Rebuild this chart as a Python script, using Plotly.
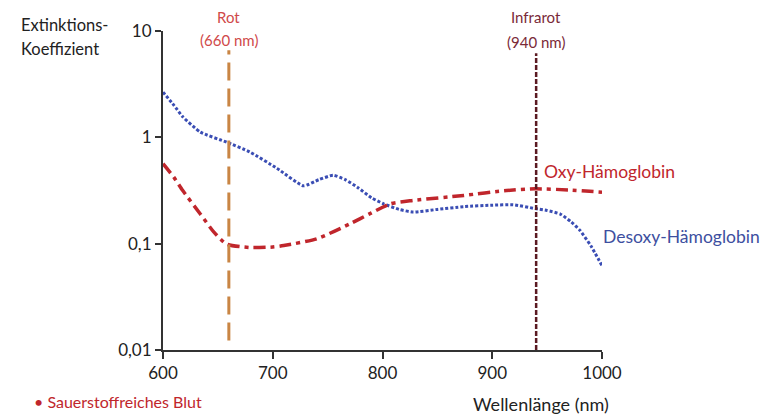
import plotly.graph_objects as go

# Wellenlängen (nm) und Extinktionskoeffizienten
wl_desoxy = [600, 610, 618, 634, 658, 679, 704, 728, 742, 755, 766, 777, 790, 801,
             815, 828, 850, 874, 900, 919, 939, 950, 962, 972, 980, 990, 1000]
ext_desoxy = [2.66, 2.0, 1.56, 1.12, 0.90, 0.73, 0.51, 0.35, 0.40, 0.44, 0.40, 0.34,
              0.27, 0.237, 0.21, 0.198, 0.21, 0.223, 0.23, 0.232, 0.214, 0.205, 0.19,
              0.16, 0.133, 0.095, 0.062]

wl_oxy = [600, 610, 618, 634, 646, 658, 679, 700, 710, 740, 770, 790, 807, 828,
          874, 913, 939, 970, 1000]
ext_oxy = [0.565, 0.42, 0.316, 0.19, 0.13, 0.099, 0.092, 0.093, 0.096, 0.111, 0.153,
           0.195, 0.237, 0.255, 0.284, 0.316, 0.328, 0.32, 0.305]

# Messwellenlängen des Pulsoximeters
wl_rot = 660
wl_infrarot = 940

x_ticks = [600, 700, 800, 900, 1000]
y_ticks = [0.01, 0.1, 1, 10]
y_ticktext = ["0,01", "0,1", "1", "10"]

FONT = "Lato"
RED = "#c0262c"
BLUE = "#3a4db4"

fig = go.Figure()

fig.add_trace(go.Scatter(
    x=wl_desoxy, y=ext_desoxy, mode="lines",
    line=dict(color=BLUE, width=3, dash="3px,2px", shape="spline", smoothing=0.5),
    hoverinfo="skip", showlegend=False,
))
fig.add_trace(go.Scatter(
    x=wl_oxy, y=ext_oxy, mode="lines",
    line=dict(color=RED, width=3.5, dash="12px,5px,4px,5px", shape="spline", smoothing=0.6),
    hoverinfo="skip", showlegend=False,
))

# Vertikale Markierungen für Rot und Infrarot
fig.add_shape(type="line", xref="x", yref="paper", x0=wl_rot, x1=wl_rot,
              y0=0.03, y1=0.94,
              line=dict(color="#c98544", width=3, dash="18px,8px"))
fig.add_shape(type="line", xref="x", yref="paper", x0=wl_infrarot, x1=wl_infrarot,
              y0=0.0, y1=0.93,
              line=dict(color="#5b1a22", width=2.5, dash="5px,2px"))

ann = []
def label(text, x, y, color, size=15, xref="paper", xanchor="left", yanchor="middle"):
    ann.append(dict(text=text, x=x, y=y, xref=xref, yref="paper", showarrow=False,
                    xanchor=xanchor, yanchor=yanchor,
                    font=dict(family=FONT, size=size, color=color)))

label("Extinktions-", -0.328, 1.019, "#222", size=16.5)
label("Koeffizient", -0.328, 0.945, "#222", size=16.5)
label("Rot", wl_rot, 1.043, "#d0494a", size=15, xref="x", xanchor="center")
label("(660 nm)", wl_rot, 0.972, "#d0494a", size=15, xref="x", xanchor="center")
label("Infrarot", wl_infrarot, 1.043, "#7a2a38", size=15, xref="x", xanchor="center")
label("(940 nm)", wl_infrarot, 0.964, "#7a2a38", size=15, xref="x", xanchor="center")
label("Oxy-Hämoglobin", 0.863, 0.558, RED, size=17.5)
label("Desoxy-Hämoglobin", 0.997, 0.357, "#3d4fa0", size=17.5)
label("Wellenlänge (nm)", 0.861, -0.169, "#222", size=18, xanchor="center")
label("• Sauerstoffreiches Blut", -0.298, -0.197, RED, size=16, yanchor="bottom")

fig.update_layout(
    width=780, height=414,
    margin=dict(l=163, r=178, t=31, b=64),
    paper_bgcolor="white", plot_bgcolor="white",
    annotations=ann,
    font=dict(family=FONT, size=17, color="#222"),
    xaxis=dict(range=[600, 1000], tickvals=x_ticks, showgrid=False, zeroline=False,
               showline=True, linecolor="#333", linewidth=2,
               ticks="outside", ticklen=7, tickwidth=2, tickcolor="#333",
               tickfont=dict(family=FONT, size=17, color="#222")),
    yaxis=dict(type="log", range=[-2, 1], tickvals=y_ticks, ticktext=y_ticktext,
               showgrid=False, zeroline=False,
               showline=True, linecolor="#333", linewidth=2,
               ticks="outside", ticklen=6, tickwidth=2, tickcolor="#333",
               tickfont=dict(family=FONT, size=17, color="#222")),
)

fig.write_html("out.html")
